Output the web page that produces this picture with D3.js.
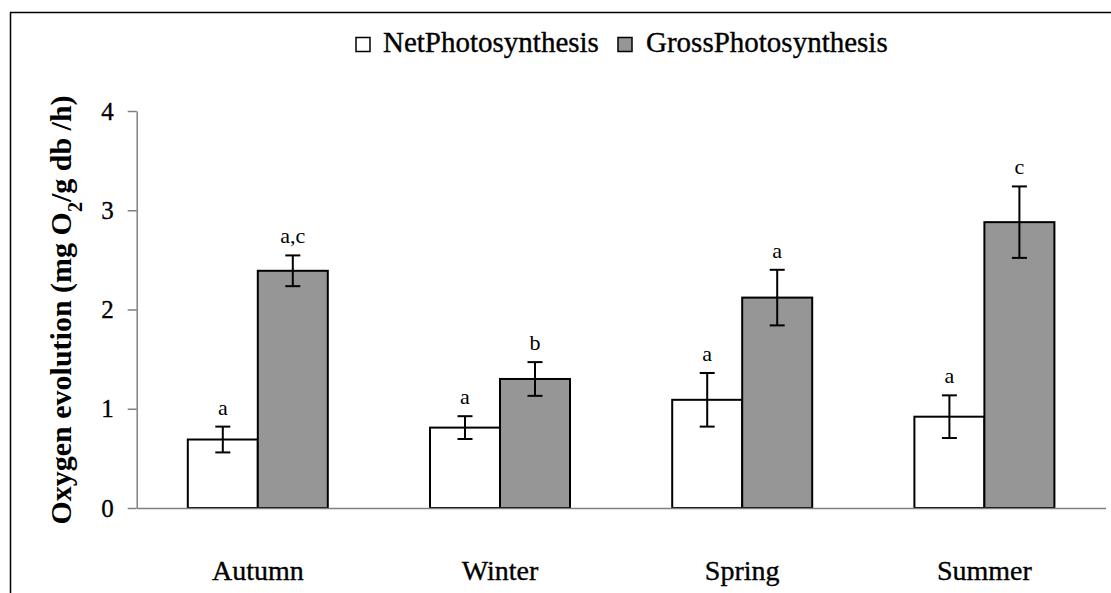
<!DOCTYPE html>
<html>
<head>
<meta charset="utf-8">
<script src="https://cdn.jsdelivr.net/npm/d3@7"></script>
<style>
  body { margin: 0; background: #fff; }
</style>
</head>
<body>
<div id="chart"></div>
<script>
// data
const seasons = ["Autumn", "Winter", "Spring", "Summer"];
const seriesNames = ["NetPhotosynthesis", "GrossPhotosynthesis"];
const netValues = [0.69, 0.81, 1.09, 0.92];
const netErrors = [0.13, 0.115, 0.27, 0.215];
const grossValues = [2.39, 1.30, 2.12, 2.88];
const grossErrors = [0.155, 0.17, 0.28, 0.36];
const netLetters = ["a", "a", "a", "a"];
const grossLetters = ["a,c", "b", "a", "c"];
const yTicks = [0, 1, 2, 3, 4];

const width = 1111, height = 593;
const serif = "'Liberation Serif', 'Times New Roman', Times, serif";
const fills = { NetPhotosynthesis: "#ffffff", GrossPhotosynthesis: "#969696" };

const svg = d3.select("#chart").append("svg")
    .attr("width", width)
    .attr("height", height)
    .style("font-family", serif);

// outer frame (runs off the right and bottom edges)
svg.append("rect")
    .attr("x", 10.5).attr("y", 12.5)
    .attr("width", 1200).attr("height", 700)
    .attr("fill", "none")
    .attr("stroke", "#000")
    .attr("stroke-width", 1.5);

const x0 = d3.scaleBand()
    .domain(seasons)
    .range([136.7, 1105.5])
    .padding(0);

const groupWidth = 140;
const x1 = d3.scaleBand()
    .domain(seriesNames)
    .range([0, groupWidth]);

const y = d3.scaleLinear()
    .domain([0, 4])
    .range([508, 111]);

// one row per bar
const rows = [];
seasons.forEach((s, i) => {
    rows.push({ season: s, series: "NetPhotosynthesis", value: netValues[i], err: netErrors[i], letter: netLetters[i] });
    rows.push({ season: s, series: "GrossPhotosynthesis", value: grossValues[i], err: grossErrors[i], letter: grossLetters[i] });
});
const barX = d => x0(d.season) + (x0.bandwidth() - groupWidth) / 2 + x1(d.series);
const barMid = d => barX(d) + x1.bandwidth() / 2;

// regular text renders thin at big sizes, give it a hair of stroke
function darken(sel) {
    sel.attr("stroke", "#000").attr("stroke-width", 0.35);
}

// y axis
const yAxis = svg.append("g")
    .attr("transform", "translate(136.7,0)")
    .call(d3.axisLeft(y).tickValues(yTicks).tickFormat(d3.format("d"))
        .tickSize(9).tickSizeOuter(0).tickPadding(14));
yAxis.attr("font-family", null).attr("font-size", null);
yAxis.selectAll("line, path").attr("stroke", "#808080").attr("stroke-width", 1.5);
yAxis.selectAll("text")
    .attr("fill", "#000")
    .style("font-family", serif)
    .style("font-size", "25px")
    .call(darken);

// bars
svg.append("g").selectAll("rect")
    .data(rows)
    .join("rect")
    .attr("x", d => barX(d))
    .attr("y", d => y(d.value))
    .attr("width", x1.bandwidth())
    .attr("height", d => y(0) - y(d.value))
    .attr("fill", d => fills[d.series])
    .attr("stroke", "#000")
    .attr("stroke-width", 2);

// x axis line and labels
const xAxis = svg.append("g")
    .attr("transform", `translate(0,${y(0)})`)
    .call(d3.axisBottom(x0).tickSize(0).tickSizeOuter(0).tickPadding(52));
xAxis.attr("font-family", null).attr("font-size", null);
xAxis.select("path").attr("stroke", "#808080").attr("stroke-width", 1.5);
xAxis.selectAll("text")
    .attr("fill", "#000")
    .style("font-family", serif)
    .style("font-size", "28px")
    .call(darken);

// error bars
const errG = svg.append("g").attr("stroke", "#000").attr("stroke-width", 2);
errG.selectAll("line.v")
    .data(rows)
    .join("line")
    .attr("class", "v")
    .attr("x1", barMid).attr("x2", barMid)
    .attr("y1", d => y(d.value + d.err))
    .attr("y2", d => y(d.value - d.err));
errG.selectAll("line.top")
    .data(rows)
    .join("line")
    .attr("class", "top")
    .attr("x1", d => barMid(d) - 7.5).attr("x2", d => barMid(d) + 7.5)
    .attr("y1", d => y(d.value + d.err)).attr("y2", d => y(d.value + d.err));
errG.selectAll("line.bot")
    .data(rows)
    .join("line")
    .attr("class", "bot")
    .attr("x1", d => barMid(d) - 7.5).attr("x2", d => barMid(d) + 7.5)
    .attr("y1", d => y(d.value - d.err)).attr("y2", d => y(d.value - d.err));

// significance letters
svg.append("g").selectAll("text")
    .data(rows)
    .join("text")
    .attr("x", barMid)
    .attr("y", d => y(d.value + d.err) - 12)
    .attr("text-anchor", "middle")
    .style("font-family", serif)
    .style("font-size", "22px")
    .text(d => d.letter);

// y axis title
const title = svg.append("text")
    .attr("transform", "translate(71,310) rotate(-90)")
    .attr("text-anchor", "middle")
    .style("font-family", serif)
    .style("font-size", "30px")
    .style("font-weight", "bold");
title.append("tspan").text("Oxygen evolution (mg O");
title.append("tspan").attr("baseline-shift", "sub").style("font-size", "20px").text("2");
title.append("tspan").text("/g db /h)");

// legend
const legendItems = [
    { name: seriesNames[0], box: 356, text: 383 },
    { name: seriesNames[1], box: 618, text: 646 }
];
const legend = svg.append("g");
legend.selectAll("rect")
    .data(legendItems)
    .join("rect")
    .attr("x", d => d.box).attr("y", 37.5)
    .attr("width", 14).attr("height", 14)
    .attr("fill", d => fills[d.name])
    .attr("stroke", "#000")
    .attr("stroke-width", 1.5);
legend.selectAll("text")
    .data(legendItems)
    .join("text")
    .attr("x", d => d.text).attr("y", 52)
    .style("font-family", serif)
    .style("font-size", "29px")
    .call(darken)
    .text(d => d.name);
</script>
</body>
</html>
